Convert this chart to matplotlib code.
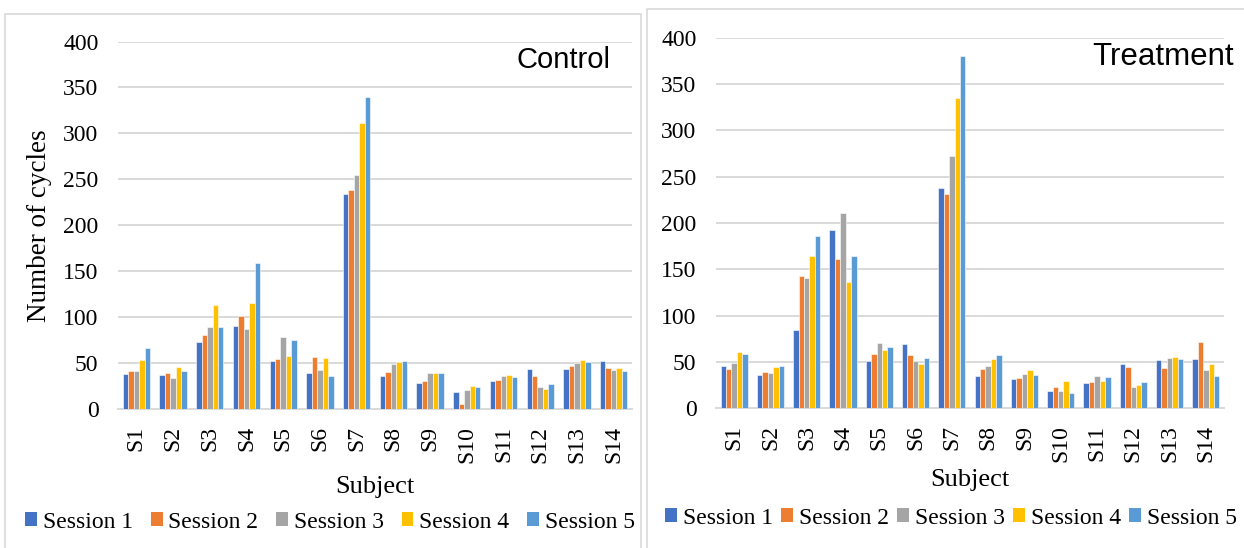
import numpy as np
import matplotlib
matplotlib.use("Agg")
import matplotlib.pyplot as plt
from matplotlib.patches import Rectangle, Patch

subjects = ["S%d" % i for i in range(1, 15)]
sessions = ["Session 1", "Session 2", "Session 3", "Session 4", "Session 5"]
colors = ["#4472C4", "#ED7D31", "#A5A5A5", "#FFC000", "#5B9BD5"]

# control group, one list per session (S1..S14)
control_s1 = [38, 37, 73, 91, 53, 40, 234, 36, 29, 19, 31, 44, 44, 53]
control_s2 = [42, 39, 81, 102, 55, 57, 239, 41, 31, 6, 32, 36, 47, 45]
control_s3 = [42, 34, 89, 87, 79, 43, 255, 49, 39, 21, 36, 24, 50, 43]
control_s4 = [54, 46, 113, 116, 58, 56, 311, 51, 40, 25, 37, 22, 54, 45]
control_s5 = [67, 42, 89, 159, 75, 36, 340, 53, 39, 24, 35, 28, 51, 42]

# treatment group
treat_s1 = [46, 36, 85, 192, 51, 69, 238, 35, 32, 19, 27, 48, 52, 53]
treat_s2 = [42, 39, 143, 161, 59, 58, 231, 42, 33, 23, 28, 45, 44, 72]
treat_s3 = [49, 38, 141, 211, 71, 51, 272, 46, 37, 19, 35, 23, 54, 41]
treat_s4 = [61, 45, 164, 136, 63, 48, 335, 53, 41, 30, 30, 25, 55, 48]
treat_s5 = [59, 46, 186, 164, 66, 54, 380, 57, 36, 16, 34, 28, 53, 35]

control = [control_s1, control_s2, control_s3, control_s4, control_s5]
treatment = [treat_s1, treat_s2, treat_s3, treat_s4, treat_s5]

W, H = 1244, 548
fig = plt.figure(figsize=(W / 100, H / 100), dpi=100)

serif = ["Liberation Serif", "DejaVu Serif"]
sans = ["Liberation Sans", "DejaVu Sans"]
grid_c = "#D9D9D9"

# panel borders
fig.patches.append(Rectangle((5 / W, 1 - 600 / H), 636 / W, 586 / H, transform=fig.transFigure,
                             fill=False, edgecolor=grid_c, linewidth=1.2))
fig.patches.append(Rectangle((647 / W, 1 - 600 / H), 640 / W, 591 / H, transform=fig.transFigure,
                             fill=False, edgecolor=grid_c, linewidth=1.2))


def draw(ax, data):
    x = np.arange(len(subjects))
    bw = 0.745 / 5
    for i, vals in enumerate(data):
        ax.bar(x + (i - 2) * bw, vals, bw, color=colors[i], edgecolor="white",
               linewidth=0.4, label=sessions[i], zorder=3)
    ax.set_xlim(-0.5, len(subjects) - 0.5)
    ax.set_ylim(0, 400)
    ax.set_yticks(range(0, 401, 50))
    ax.set_xticks(x)
    ax.set_xticklabels(subjects, rotation=90, fontfamily=serif, fontsize=17)
    for lab in ax.get_yticklabels():
        lab.set_fontfamily(serif)
        lab.set_fontsize(17)
    ax.tick_params(axis="both", length=0)
    ax.tick_params(axis="y", pad=14)
    ax.tick_params(axis="x", pad=12)
    ax.grid(axis="y", color=grid_c, linewidth=1.4, zorder=0)
    for s in ["left", "right", "top"]:
        ax.spines[s].set_visible(False)
    ax.spines["bottom"].set_color(grid_c)
    ax.spines["bottom"].set_linewidth(1.4)


ax1 = fig.add_axes([118 / W, 1 - 409.3 / H, 514 / W, (409.3 - 41.5) / H])
draw(ax1, control)
ax2 = fig.add_axes([716 / W, 1 - 408.3 / H, 508 / W, (408.3 - 37.7) / H])
draw(ax2, treatment)

fig.text(611 / W, 1 - 60 / H, "Control", ha="right", va="center", fontfamily=sans, fontsize=21)
fig.text(1234 / W, 1 - 57 / H, "Treatment", ha="right", va="center", fontfamily=sans, fontsize=22.5)

fig.text(40 / W, 1 - 226 / H, "Number of cycles", rotation=90, ha="center", va="center",
         fontfamily=serif, fontsize=19.5)
fig.text(375 / W, 1 - 487 / H, "Subject", ha="center", va="center", fontfamily=serif, fontsize=19)
fig.text(970 / W, 1 - 480 / H, "Subject", ha="center", va="center", fontfamily=serif, fontsize=19)

handles = [Patch(facecolor=c, edgecolor="none") for c in colors]
leg_kw = dict(ncol=5, frameon=False, handlelength=0.5, handleheight=0.5, handletextpad=0.25,
              prop={"family": serif, "size": 17}, borderaxespad=0, borderpad=0)
fig.legend(handles, sessions, loc="center", bbox_to_anchor=(330 / W, 1 - 522 / H),
           columnspacing=0.75, **leg_kw)
fig.legend(handles, sessions, loc="center", bbox_to_anchor=(951 / W, 1 - 518 / H),
           columnspacing=0.35, **leg_kw)

fig.savefig("out.png", dpi=100)
